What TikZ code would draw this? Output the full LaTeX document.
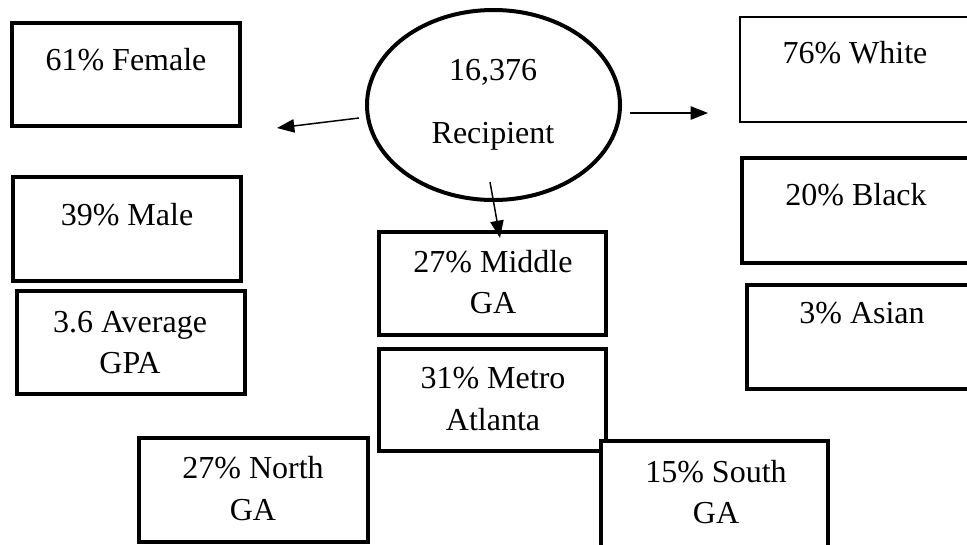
\documentclass[tikz,border=0pt]{standalone}
\usepackage{fontspec}
\setmainfont{Liberation Serif}
\usetikzlibrary{arrows.meta,shapes.geometric}
\begin{document}
\begin{tikzpicture}[x=0.75pt,y=-0.75pt,
  sz/.style 2 args={minimum width=#1*0.75pt, minimum height=#2*0.75pt},
  box/.style={draw=black, line width=3pt, fill=white, rectangle, inner sep=0pt, outer sep=0pt},
  thinbox/.style={box, line width=1.5pt},
  oval/.style={draw=black, line width=3pt, ellipse, inner sep=0pt, outer sep=0pt},
  lbl/.style={font=\fontsize{24}{30.75}\selectfont, anchor=base, inner sep=0pt},
  link/.style={line width=1.1pt, -{Triangle[length=13pt,width=10pt]}}]
\useasboundingbox (0,0) rectangle (967,544);
\clip (0,0) rectangle (967,544);

% left column
\node[box, sz={228}{103}] (female) at (126,74.5) {};
\node[box, sz={228}{104}] (male)   at (127,229) {};
\node[box, sz={228}{103}] (gpa)    at (131,342.5) {};

% centre
\node[oval, minimum width=253*0.75pt, minimum height=190*0.75pt] (rec) at (493.5,105) {};
\node[box, sz={227}{103}] (middle) at (492.5,283.5) {};
\node[box, sz={227}{102}] (metro)  at (492.5,400) {};

% right column
\node[thinbox, sz={260}{105}] (white) at (870,69.5) {};
\node[box, sz={258}{105}] (black) at (871,210.5) {};
\node[box, sz={253}{104}] (asian) at (873.5,337) {};

% bottom row
\node[box, sz={229}{104}] (north) at (253.5,490) {};
\node[box, sz={227}{159}] (south) at (714.5,520.5) {};

% labels
\node[lbl] (female-t) at (126,70) {61\% Female};
\node[lbl] (male-t)   at (127,225) {39\% Male};
\node[lbl] (gpa-a)    at (130,332) {3.6 Average};
\node[lbl] (gpa-b)    at (130,373) {GPA};
\node[lbl] (rec-a)    at (493,80) {16,376};
\node[lbl] (rec-b)    at (493,143) {Recipient};
\node[lbl] (middle-a) at (493,272) {27\% Middle};
\node[lbl] (middle-b) at (493,313) {GA};
\node[lbl] (metro-a)  at (493,388) {31\% Metro};
\node[lbl] (metro-b)  at (493,430) {Atlanta};
\node[lbl] (white-t)  at (855,63) {76\% White};
\node[lbl] (black-t)  at (856,205) {20\% Black};
\node[lbl] (asian-t)  at (862,323) {3\% Asian};
\node[lbl] (north-a)  at (253,478) {27\% North};
\node[lbl] (north-b)  at (253,520) {GA};
\node[lbl] (south-a)  at (716,482) {15\% South};
\node[lbl] (south-b)  at (716,523) {GA};

% arrows leaving the recipient oval
\coordinate (l-from) at (359,118);
\coordinate (l-to)   at (277,128);
\coordinate (r-from) at (630,113);
\coordinate (r-to)   at (708,113);
\coordinate (d-from) at (490,182);
\coordinate (d-to)   at (500,238);
\draw[link] (l-from) -- (l-to);
\draw[link] (r-from) -- (r-to);
\draw[link] (d-from) -- (d-to);
\end{tikzpicture}
\end{document}
